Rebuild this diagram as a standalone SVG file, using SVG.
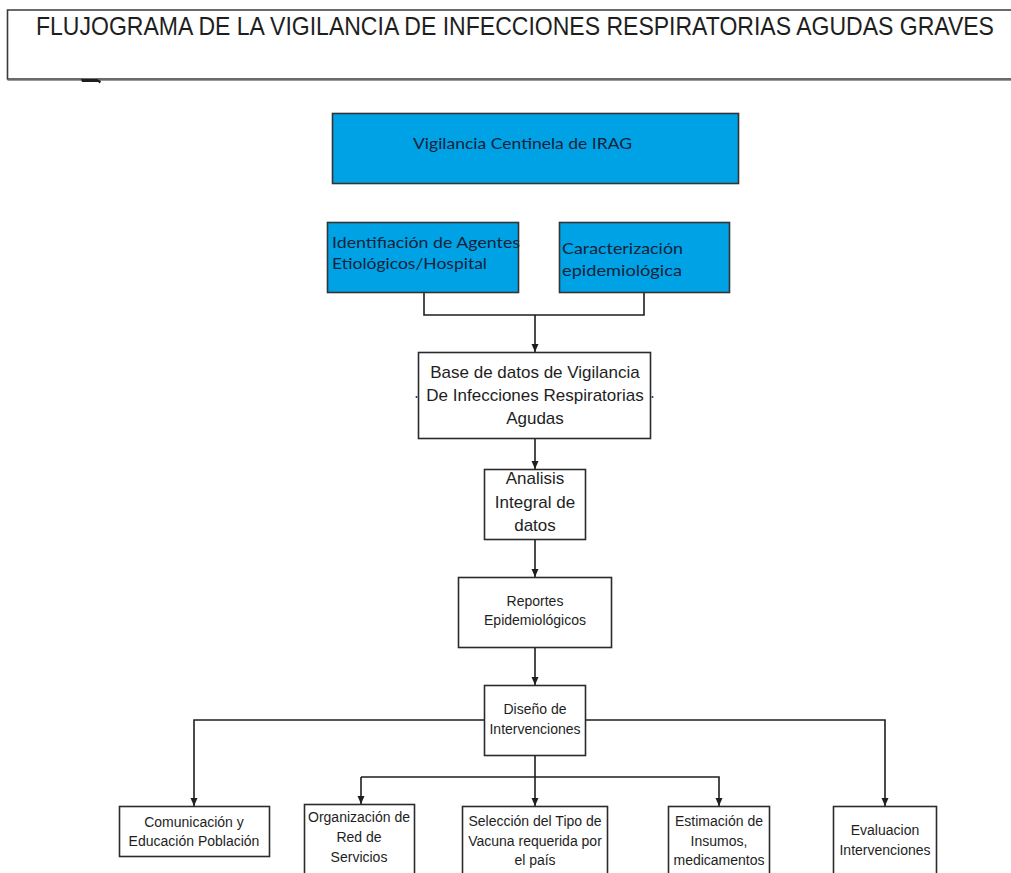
<svg xmlns="http://www.w3.org/2000/svg" width="1011" height="873" viewBox="0 0 1011 873">
<defs>
<style>
.box{fill:#fff;stroke:#2b2b2b;stroke-width:1.6}
.blue{fill:#00a2e6;stroke:#333;stroke-width:1.6}
.t{font-family:"Liberation Sans",Arial,sans-serif;fill:#1e1e1e;text-anchor:middle}
.m{font-size:17px}
.s{font-size:14px}
.c{font-family:Lato,"Open Sans",sans-serif;fill:#14233a;font-size:16px}
.conn{fill:none;stroke:#1e1e1e;stroke-width:1.6}
</style>
<marker id="arr" markerWidth="8" markerHeight="8" refX="8" refY="4" orient="auto" markerUnits="userSpaceOnUse">
<path d="M0,0.5 L8,4 L0,7.5 z" fill="#1e1e1e"/>
</marker>
</defs>
<rect width="1011" height="873" fill="#fff"/>

<g id="title">
<path d="M1015,10 H7.5 V79 H1015" fill="none" stroke="#3a3a3a" stroke-width="1.6"/>
<line x1="7.5" y1="80.5" x2="1015" y2="80.5" stroke="#9a9a9a" stroke-width="1"/>
<text transform="translate(36,35) scale(0.85,1)" x="0" y="0" font-family="Liberation Sans,Arial,sans-serif" font-size="26" fill="#1e1e1e" textLength="1127" lengthAdjust="spacingAndGlyphs">FLUJOGRAMA DE LA VIGILANCIA DE INFECCIONES RESPIRATORIAS AGUDAS GRAVES</text>
<path d="M81,79 H97 L101,81 L100,83.5 L98,82 H82 Z" fill="#1e1e1e"/>
</g>

<g id="connectors">
<path class="conn" d="M424,293 V315 H644 V293"/>
<path class="conn" d="M535,315 V352" marker-end="url(#arr)"/>
<path class="conn" d="M535,439 V469" marker-end="url(#arr)"/>
<path class="conn" d="M535,539 V577" marker-end="url(#arr)"/>
<path class="conn" d="M535,647 V685" marker-end="url(#arr)"/>
<path class="conn" d="M484,720 H194 V806" marker-end="url(#arr)"/>
<path class="conn" d="M586,720 H885 V806" marker-end="url(#arr)"/>
<path class="conn" d="M535,756 V806" marker-end="url(#arr)"/>
<path class="conn" d="M361,777 H719 V806" marker-end="url(#arr)"/>
<path class="conn" d="M361,777 V804" marker-end="url(#arr)"/>
</g>

<g id="vigilancia">
<rect class="blue" x="332.5" y="113.5" width="406" height="70"/>
<text class="c" x="413" y="149" textLength="219" lengthAdjust="spacingAndGlyphs">Vigilancia Centinela de IRAG</text>
</g>

<g id="identificacion">
<rect class="blue" x="327.5" y="222.5" width="191" height="70"/>
<text class="c" x="332" y="248" textLength="188" lengthAdjust="spacingAndGlyphs">Identifiación de Agentes</text>
<text class="c" x="332" y="269" textLength="155" lengthAdjust="spacingAndGlyphs">Etiológicos/Hospital</text>
</g>

<g id="caracterizacion">
<rect class="blue" x="559.5" y="222.5" width="170" height="70"/>
<text class="c" x="562" y="254" textLength="121" lengthAdjust="spacingAndGlyphs">Caracterización</text>
<text class="c" x="562" y="276" textLength="120" lengthAdjust="spacingAndGlyphs">epidemiológica</text>
</g>

<g id="base">
<rect class="box" x="418.5" y="352.5" width="232" height="86"/>
<text class="t m" x="535" y="378">Base de datos de Vigilancia</text>
<text class="t m" x="535" y="401">De Infecciones Respiratorias</text>
<text class="t m" x="535" y="424">Agudas</text>
<circle cx="416.5" cy="397" r="1" fill="#333"/>
<circle cx="652.5" cy="397" r="1" fill="#333"/>
</g>

<g id="analisis">
<rect class="box" x="484.5" y="469.5" width="101" height="70"/>
<text class="t m" x="535" y="484">Analisis</text>
<text class="t m" x="535" y="508">Integral de</text>
<text class="t m" x="535" y="531">datos</text>
</g>

<g id="reportes">
<rect class="box" x="458.5" y="577.5" width="153" height="70"/>
<text class="t s" x="535" y="606">Reportes</text>
<text class="t s" x="535" y="625">Epidemiológicos</text>
</g>

<g id="diseno">
<rect class="box" x="484.5" y="685.5" width="101" height="70"/>
<text class="t s" x="535" y="714">Diseño de</text>
<text class="t s" x="535" y="734">Intervenciones</text>
</g>

<g id="comunicacion">
<rect class="box" x="119.5" y="806.5" width="150" height="50"/>
<text class="t s" x="194" y="827">Comunicación y</text>
<text class="t s" x="194" y="846">Educación Población</text>
</g>

<g id="organizacion">
<rect class="box" x="304.5" y="804.5" width="110" height="75"/>
<text class="t s" x="359" y="822">Organización de</text>
<text class="t s" x="359" y="842">Red de</text>
<text class="t s" x="359" y="862">Servicios</text>
</g>

<g id="seleccion">
<rect class="box" x="462.5" y="806.5" width="145" height="75"/>
<text class="t s" x="535" y="826">Selección del Tipo de</text>
<text class="t s" x="535" y="846">Vacuna requerida por</text>
<text class="t s" x="535" y="865">el país</text>
</g>

<g id="estimacion">
<rect class="box" x="668.5" y="806.5" width="101" height="75"/>
<text class="t s" x="719" y="826">Estimación de</text>
<text class="t s" x="719" y="846">Insumos,</text>
<text class="t s" x="719" y="865">medicamentos</text>
</g>

<g id="evaluacion">
<rect class="box" x="833.5" y="806.5" width="103" height="75"/>
<text class="t s" x="885" y="835">Evaluacion</text>
<text class="t s" x="885" y="855">Intervenciones</text>
</g>
</svg>
